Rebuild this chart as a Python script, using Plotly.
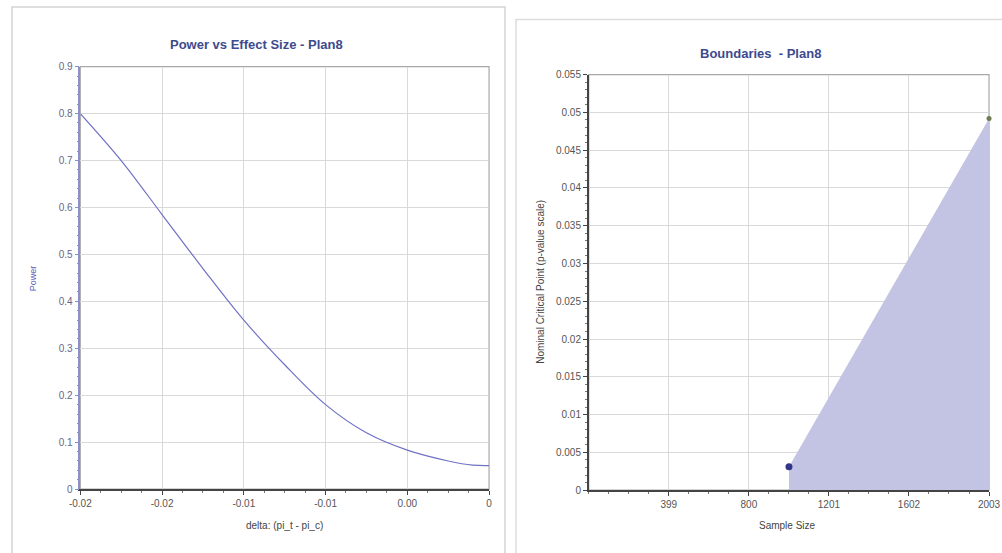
import plotly.graph_objects as go

# ---- Left chart data: Power vs Effect Size ----
delta = [-0.025, -0.0225, -0.02, -0.0175, -0.015, -0.0125, -0.01, -0.0075, -0.005, -0.0025, -0.001, 0.0]
power = [0.80, 0.70, 0.585, 0.47, 0.36, 0.265, 0.18, 0.12, 0.083, 0.06, 0.051, 0.05]
delta_ticks = [-0.025, -0.02, -0.015, -0.01, -0.005, 0.0]
delta_ticktext = ["-0.02", "-0.02", "-0.01", "-0.01", "0.00", "0"]

# ---- Right chart data: Boundaries ----
sample_size = [1001, 2003]
critical_p = [0.0031, 0.0492]
size_ticks = [399, 800, 1201, 1602, 2003]

W, H = 1002, 553
# mapping from target picture pixels to page pixels (compensates the capture inset)
SX, OX = 0.980, 10.5
SY, OY = 0.979, 6.4


def px_x(p):
    v = ((p - OX) / SX) / W
    return min(max(v, 0.0), 0.999)


def px_y(p):
    v = 1 - ((p - OY) / SY) / H
    return min(max(v, 0.0), 1.0)


fig = go.Figure()

fig.add_trace(go.Scatter(
    x=delta, y=power, mode="lines", line=dict(color="#6f72c4", width=1.2, shape="spline"),
    xaxis="x", yaxis="y", showlegend=False, hoverinfo="skip"))

fig.add_trace(go.Scatter(
    x=sample_size, y=critical_p, mode="lines", line=dict(width=0, color="#c3c3e3"),
    fill="tozeroy", fillcolor="#c3c3e3", xaxis="x2", yaxis="y2", showlegend=False))
fig.add_trace(go.Scatter(
    x=sample_size[:1], y=critical_p[:1], mode="markers",
    marker=dict(color="#33358a", size=7), xaxis="x2", yaxis="y2", showlegend=False))
fig.add_trace(go.Scatter(
    x=sample_size[1:], y=critical_p[1:], mode="markers",
    marker=dict(color="#6d7a52", size=5), xaxis="x2", yaxis="y2", showlegend=False,
    cliponaxis=False))

font_fam = "Liberation Sans, Arial, sans-serif"
tickfont = dict(family=font_fam, size=10, color="#555555")

fig.update_layout(
    width=W, height=H,
    margin=dict(l=0, r=0, t=0, b=0),
    paper_bgcolor="white", plot_bgcolor="white",
    xaxis=dict(domain=[px_x(80), px_x(490)], range=[-0.025, 0], tickvals=delta_ticks,
               ticktext=delta_ticktext, showgrid=True, gridcolor="#d9d9d9", gridwidth=1,
               zeroline=False, showline=True, linecolor="#444444", linewidth=1.5,
               ticks="outside", ticklen=4, tickcolor="#444444", tickfont=tickfont,
               minor=dict(ticks="outside", ticklen=2, dtick=0.00125, tickcolor="#777777", showgrid=False),
               anchor="y"),
    yaxis=dict(domain=[px_y(489), px_y(67)], range=[0, 0.9], dtick=0.1,
               showgrid=True, gridcolor="#d9d9d9", zeroline=False, showline=True,
               linecolor="#8d8fc8", linewidth=1.5, ticks="outside", ticklen=4,
               tickcolor="#8d8fc8", tickfont=dict(family=font_fam, size=10, color="#66668a"),
               minor=dict(ticks="outside", ticklen=2, dtick=0.02, tickcolor="#8d8fc8", showgrid=False),
               anchor="x"),
    xaxis2=dict(domain=[px_x(590), px_x(992)], range=[-2, 2003], tickvals=size_ticks,
                showgrid=True, gridcolor="#d9d9d9", zeroline=False, showline=True,
                linecolor="#444444", linewidth=1.5, ticks="outside", ticklen=4,
                tickcolor="#444444", tickfont=tickfont, ticklabeloverflow="allow",
                minor=dict(ticks="outside", ticklen=2, dtick=100.25, tick0=-2, tickcolor="#777777", showgrid=False),
                anchor="y2"),
    yaxis2=dict(domain=[px_y(490), px_y(75)], range=[0, 0.055], dtick=0.005,
                showgrid=True, gridcolor="#d9d9d9", zeroline=False, showline=True,
                linecolor="#444444", linewidth=1.5, ticks="outside", ticklen=4,
                tickcolor="#444444", tickfont=tickfont,
                minor=dict(ticks="outside", ticklen=2, dtick=0.001, tickcolor="#777777", showgrid=False),
                anchor="x2"),
)

shapes = [
    # panel frames
    dict(type="rect", xref="paper", yref="paper", x0=0.001, x1=px_x(506), y0=-0.02, y1=0.998,
         line=dict(color="#d4d4d4", width=1.5), layer="below"),
    dict(type="rect", xref="paper", yref="paper", x0=px_x(517), x1=1.02, y0=-0.02, y1=px_y(20),
         line=dict(color="#dddddd", width=1.5), layer="below"),
    # plot frames (top/right borders)
    dict(type="rect", xref="x domain", yref="y domain", x0=0, x1=1, y0=0, y1=1,
         line=dict(color="#a8a8a8", width=1.2), layer="below"),
    dict(type="rect", xref="x2 domain", yref="y2 domain", x0=0, x1=1, y0=0, y1=1,
         line=dict(color="#a8a8a8", width=1.2), layer="below"),
]
fig.update_layout(shapes=shapes)

title_font = dict(family=font_fam, size=13, color="#3e4a8e")
annotations = [
    dict(text="<b>Power vs Effect Size - Plan8</b>", xref="paper", yref="paper",
         x=px_x(257), y=px_y(45), showarrow=False, font=title_font, xanchor="center", yanchor="middle"),
    dict(text="<b>Boundaries  - Plan8</b>", xref="paper", yref="paper",
         x=px_x(762), y=px_y(54), showarrow=False, font=title_font, xanchor="center", yanchor="middle"),
    dict(text="delta: (pi_t - pi_c)", xref="paper", yref="paper", x=px_x(285), y=px_y(525),
         showarrow=False, font=dict(family=font_fam, size=10, color="#444444"),
         xanchor="center", yanchor="middle"),
    dict(text="Sample Size", xref="paper", yref="paper", x=px_x(789), y=px_y(525),
         showarrow=False, font=dict(family=font_fam, size=10, color="#444444"),
         xanchor="center", yanchor="middle"),
    dict(text="Power", xref="paper", yref="paper", x=px_x(32), y=px_y(278), textangle=-90,
         showarrow=False, font=dict(family=font_fam, size=9, color="#5a5ab4"),
         xanchor="center", yanchor="middle"),
    dict(text="Nominal Critical Point (p-value scale)", xref="paper", yref="paper",
         x=px_x(542), y=px_y(282), textangle=-90, showarrow=False,
         font=dict(family=font_fam, size=10, color="#444444"), xanchor="center", yanchor="middle"),
]
fig.update_layout(annotations=annotations)

fig.write_html(
    "out.html",
    config={"displayModeBar": False},
    post_script="document.body.style.margin='0';document.body.style.padding='0';"
                "document.documentElement.style.overflow='hidden';",
)
